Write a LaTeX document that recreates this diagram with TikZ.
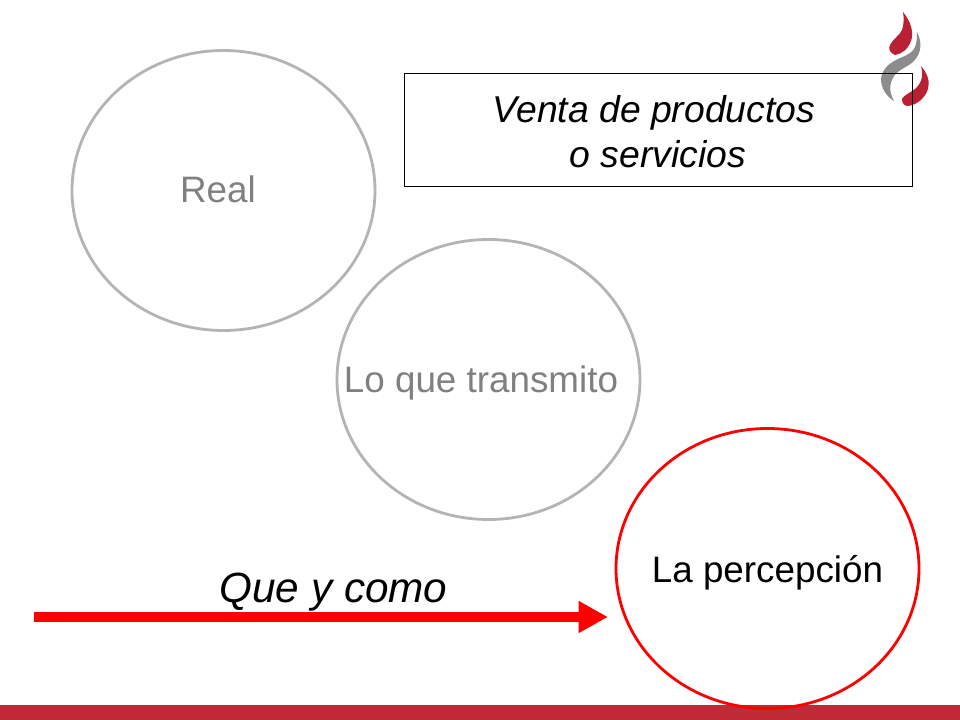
\documentclass[tikz,border=0pt]{standalone}
\usepackage{fontspec}
\setmainfont{Liberation Sans}
\usetikzlibrary{shapes.geometric,arrows.meta}
\definecolor{barred}{HTML}{BE2B36}
\definecolor{flamered}{HTML}{B92033}
\definecolor{flamegrey}{HTML}{8C8C8E}
\definecolor{ringgrey}{HTML}{B4B4B4}
\definecolor{labelgrey}{HTML}{808080}
\definecolor{arrowred}{HTML}{FF0000}
\tikzset{
  ring/.style={draw=ringgrey,ellipse,line width=2.1pt,minimum width=303*0.75pt,minimum height=280*0.75pt,inner sep=0pt},
  redring/.style={ring,draw=arrowred},
  greylabel/.style={text=labelgrey,font=\fontsize{27.6}{33}\selectfont,inner sep=0pt,anchor=base},
  blacklabel/.style={text=black,font=\fontsize{27.6}{33}\selectfont,inner sep=0pt,anchor=base},
  bigarrow/.style={draw=arrowred,line width=7.5pt,-{Triangle[length=22pt,width=22.5pt]}}
}
\begin{document}
\begin{tikzpicture}[x=0.75pt,y=-0.75pt]
\useasboundingbox (0,0) rectangle (960,720);
\fill[white] (0,0) rectangle (960,720);
% logo
\fill[flamered] (903,12) .. controls (911,22) and (914,32) .. (911,41) .. controls (908,49) and (902,54) .. (895,55) .. controls (890,53) and (888,49) .. (890,45) .. controls (893,39) and (900,35) .. (902,30) .. controls (904,24) and (904,18) .. (903,12) -- cycle;
\fill[flamegrey] (917,32) .. controls (922,42) and (922,52) .. (914,61) .. controls (908,67) and (899,69) .. (894,76) .. controls (889,84) and (889,92) .. (894,101) .. controls (886,96) and (881,88) .. (881,79) .. controls (882,70) and (888,64) .. (896,60) .. controls (904,56) and (912,54) .. (915,47) .. controls (917,42) and (917,37) .. (917,32) -- cycle;
\fill[flamered] (921,66) .. controls (928,74) and (930,82) .. (928,89) .. controls (925,98) and (917,105) .. (908,106) .. controls (904,106) and (902,103) .. (902,99) .. controls (904,95) and (910,93) .. (915,89) .. controls (921,84) and (924,76) .. (921,66) -- cycle;
% bottom bar
\fill[barred] (0,705) rectangle (960,720);
% circles
\node[ring] (real) at (223.5,190.5) {};
\node[ring] (transmito) at (488.5,379.5) {};
\node[redring] (percepcion) at (767.5,568.5) {};
\node[greylabel] (realtext) at (218,203) {Real};
\node[greylabel] (transmitotext) at (481,392) {Lo que transmito};
\node[blacklabel] (percepciontext) at (767.5,582) {La percepción};
% box
\node[draw=black,line width=0.75pt,minimum width=507.5*0.75pt,minimum height=113*0.75pt,inner sep=0pt] (venta) at (658.25,129.7) {};
\node[font=\itshape\fontsize{28}{33.75}\selectfont,align=center,inner sep=0pt] (ventatext) at (654,132) {Venta de productos\\\hspace*{6pt}o servicios};
% arrow
\coordinate (arrowstart) at (34,617);
\coordinate (arrowend) at (608,617);
\draw[bigarrow] (arrowstart) -- (arrowend);
\node[font=\itshape\fontsize{31.7}{38}\selectfont,inner sep=0pt,anchor=base] (quecomo) at (333.5,602) {Que y como};
\end{tikzpicture}
\end{document}
